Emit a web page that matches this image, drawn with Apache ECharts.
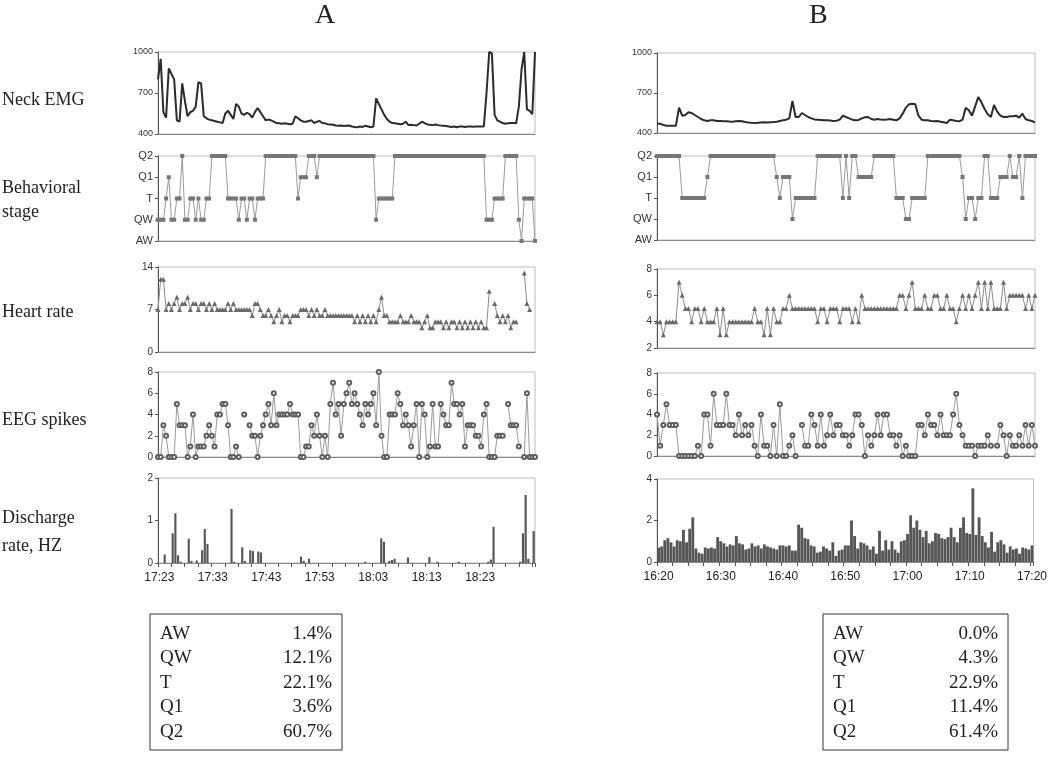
<!DOCTYPE html>
<html><head><meta charset="utf-8">
<script src="https://cdn.jsdelivr.net/npm/echarts@6/dist/echarts.min.js"></script>
<style>html,body{margin:0;padding:0;background:#fff}#c{width:1050px;height:758px}</style>
</head><body><div id="c"></div>
<script>
// ---------- DATA ----------
const stageNames = ['AW','QW','T','Q1','Q2'];
const rowLabels = [['Neck EMG'],['Behavioral','stage'],['Heart rate'],['EEG spikes'],['Discharge','rate, HZ']];
const ticksA = ['17:23','17:33','17:43','17:53','18:03','18:13','18:23'];
const ticksB = ['16:20','16:30','16:40','16:50','17:00','17:10','17:20'];
const startA = '17:23', startB = '16:20';   // 30-s bins
const binsA = 141, binsB = 121;

const emgA = [800,950,560,520,880,840,800,500,490,770,
640,530,560,570,600,780,770,530,515,505,
500,495,490,485,480,550,570,540,510,620,
600,550,540,555,545,520,560,590,560,530,
500,505,500,490,480,478,475,478,475,472,
475,530,515,500,490,490,495,500,480,490,
495,480,478,472,470,468,462,460,462,458,
460,462,455,452,450,455,452,460,455,450,
455,660,620,580,540,510,490,480,478,475,
472,475,490,465,468,465,462,475,490,480,
470,468,465,470,465,462,460,458,455,452,
455,450,455,455,452,455,455,453,455,455,
455,455,700,1000,990,540,500,490,480,475,
478,480,480,478,600,870,1000,580,570,545,
1000];
const stageA = [1,1,1,2,3,1,1,2,2,4,
1,1,2,2,1,2,1,1,2,2,
4,4,4,4,4,4,2,2,2,2,
1,2,2,1,2,2,1,2,2,2,
4,4,4,4,4,4,4,4,4,4,
4,4,2,3,3,3,4,4,4,3,
4,4,4,4,4,4,4,4,4,4,
4,4,4,4,4,4,4,4,4,4,
4,1,2,2,2,2,2,2,4,4,
4,4,4,4,4,4,4,4,4,4,
4,4,4,4,4,4,4,4,4,4,
4,4,4,4,4,4,4,4,4,4,
4,4,1,1,1,2,2,2,2,4,
4,4,4,4,1,0,2,2,2,2,
0];
const heartA = [7,12,12,7,8,7,8,9,7,8,
8,9,7,8,8,7,8,8,7,8,
7,8,7,7,7,7,8,7,8,7,
7,7,7,7,7,6,8,8,7,6,
6,7,6,5,6,7,5,6,6,5,
6,6,6,7,7,7,6,7,6,7,
6,6,7,6,6,6,6,6,6,6,
6,6,6,5,6,5,6,5,6,5,
6,5,7,9,6,6,5,5,5,5,
6,5,5,5,6,5,5,5,4,5,
6,4,4,5,5,5,4,5,4,5,
5,4,5,4,5,4,5,4,5,4,
5,4,4,10,null,8,6,5,6,5,
6,4,5,5,null,null,13,8,7,null,
null];
const eegA = [0,0,3,2,0,0,0,5,3,3,
3,0,1,4,0,1,1,1,2,3,
2,1,4,4,5,5,3,0,0,1,
0,null,4,null,3,2,2,0,2,3,
4,5,3,6,3,4,4,4,4,5,
4,4,4,0,0,1,1,3,2,4,
2,0,2,0,5,7,4,5,2,5,
6,7,5,6,5,4,3,5,4,5,
6,3,8,2,0,0,4,4,4,6,
5,3,4,3,1,3,5,0,5,4,
0,1,5,1,1,5,4,3,3,7,
5,5,4,5,1,3,3,3,2,2,
1,4,5,0,0,0,2,2,2,null,
5,3,3,3,1,null,0,6,0,0,
0];
const dischargeA = [0,0,0.2,0,0,0.7,1.17,0.18,0.03,0,
0,0.57,0.05,0,0.06,0,0.3,0.8,0.45,0,
0,0,0,0,0,0,0,1.27,0.03,0,
0,0.37,0.05,0,0.3,0.28,0,0.27,0.25,0,
0,0,0,0,0,0,0,0,0,0,
0,0,0,0.15,0.05,0,0.1,0,0,0,
0,0,0,0,0,0,0,0,0,0,
0,0,0,0,0,0,0,0.03,0,0,
0,0,0,0.58,0.5,0,0.05,0.07,0.1,0,
0,0,0,0.13,0,0,0,0,0,0,
0,0.14,0,0,0.03,0,0,0,0,0,
0,0,0.03,0,0,0,0,0,0,0,
0,0,0,0.03,0.08,0.85,0,0,0,0,
0,0,0,0,0,0.03,0.7,1.6,0.1,0,
0.75];

const emgB = [470,470,460,455,455,455,455,590,530,535,
555,550,535,520,505,495,490,495,495,490,
490,488,488,486,485,488,490,488,482,478,
476,475,476,478,480,478,480,482,485,490,
495,500,510,640,520,520,550,535,520,510,
502,500,498,496,495,493,490,492,500,530,
520,510,500,496,498,510,518,520,505,500,
505,502,500,502,505,500,495,510,545,590,
615,620,615,530,500,495,495,490,488,490,
485,480,475,500,495,490,488,500,590,570,
530,600,670,630,580,540,520,610,560,530,
520,520,525,525,530,515,545,505,495,490,
480];
const stageB = [4,4,4,4,4,4,4,4,2,2,
2,2,2,2,2,2,3,4,4,4,
4,4,4,4,4,4,4,4,4,4,
4,4,4,4,4,4,4,4,3,2,
3,3,3,1,2,2,2,2,2,2,
2,4,4,4,4,4,4,4,4,2,
4,2,4,4,3,3,3,3,3,4,
4,4,4,4,4,4,2,2,2,1,
1,2,2,2,2,2,4,4,4,4,
4,4,4,4,4,4,4,3,1,2,
2,1,2,2,4,4,2,2,2,3,
3,3,4,3,3,4,2,4,4,4,
4];
const heartB = [4,4,3,4,4,4,4,7,6,5,
5,4,5,5,4,5,4,4,4,5,
3,5,3,4,4,4,4,4,4,4,
4,5,4,4,3,5,3,5,4,4,
5,5,6,5,5,5,5,5,5,5,
5,4,5,5,4,5,5,5,4,5,
5,5,4,5,4,6,5,5,5,5,
5,5,5,5,5,5,5,6,6,5,
6,7,5,5,5,6,5,5,6,6,
5,5,6,5,5,4,5,6,5,6,
5,6,7,5,7,5,7,5,5,5,
7,5,6,6,6,6,6,5,6,5,
6];
const eegB = [4,1,3,5,3,3,3,0,0,0,
0,0,0,1,0,4,4,1,6,3,
3,3,6,3,3,2,4,2,3,2,
3,1,0,4,1,1,0,3,0,5,
0,0,1,2,0,null,3,1,1,4,
3,1,4,1,2,4,2,3,3,2,
2,1,2,4,4,3,0,2,1,2,
4,2,4,4,2,2,1,2,0,1,
0,0,0,3,3,2,4,3,3,2,
4,2,2,2,4,6,3,2,1,1,
1,0,1,1,1,2,1,null,1,3,
2,0,2,1,1,2,1,3,1,3,
1];
const dischargeB = [0.7,0.75,1.05,1.15,0.95,0.75,1.05,1.0,1.55,0.95,
1.6,2.15,0.65,0.45,0.4,0.7,0.65,0.7,0.65,1.2,
1.0,0.9,0.75,0.85,0.8,1.25,0.9,0.85,0.6,0.65,
0.9,0.75,0.8,0.65,0.85,0.75,0.7,0.65,0.6,0.8,
0.8,0.75,0.8,0.55,0.55,1.8,1.65,1.15,1.1,0.8,
0.75,0.45,0.5,0.75,0.65,0.55,0.95,0.3,0.55,0.6,
0.8,0.8,2.0,1.25,0.65,0.95,0.9,0.8,0.6,0.75,
0.4,1.5,0.55,1.05,0.6,1.0,0.6,0.45,1.0,1.05,
1.35,2.25,1.65,2.0,1.55,1.2,1.5,0.9,1.0,1.4,
1.35,1.15,1.1,1.2,1.65,1.2,0.95,1.65,2.15,1.4,
1.35,3.55,1.3,2.15,1.25,0.95,0.7,1.45,0.5,0.95,
1.05,0.85,0.45,0.75,0.6,0.65,0.4,0.7,0.65,0.6,
0.8];

const pctA = ['1.4%','12.1%','22.1%','3.6%','60.7%'];
const pctB = ['0.0%','4.3%','22.9%','11.4%','61.4%'];

// ---------- BUILD ----------
function binLabels(start, n){
  const p = start.split(':').map(Number); const out=[];
  for(let i=0;i<n;i++){
    const sec = p[0]*3600 + p[1]*60 + i*30;
    const h = Math.floor(sec/3600), m = Math.floor(sec%3600/60), s = sec%60;
    out.push(h+':'+String(m).padStart(2,'0')+(s?':30':''));
  }
  return out;
}
const catsA = binLabels(startA, binsA), catsB = binLabels(startB, binsB);

const SANS = 'Liberation Sans, Arial, sans-serif';
const SERIF = 'Liberation Serif, Times New Roman, serif';
const grids=[], xAxes=[], yAxes=[], series=[];

function addPanel(box, cats, yCfg, ser, isBar, ticks, labelSize){
  const gi = grids.length;
  grids.push({left:box[0], top:box[1], width:box[2], height:box[3], show:true,
    borderColor:'#bdbdbd', borderWidth:1, backgroundColor:'rgba(0,0,0,0)'});
  xAxes.push({gridIndex:gi, type:'category', data:cats, boundaryGap:!!isBar,
    axisLine:{show:true, onZero:false, lineStyle:{color:'#8a8a8a', width:1}},
    axisTick: isBar ? {show:true, interval:(i)=>i%5===0, length:4, lineStyle:{color:'#555'}} : {show:false},
    axisLabel: isBar ? {show:true, interval:(i,v)=>ticks.includes(v), fontFamily:SANS, fontSize:12, color:'#222', margin:9} : {show:false},
    splitLine:{show:false}});
  yAxes.push(Object.assign({gridIndex:gi,
    axisLine:{show:true, onZero:false, lineStyle:{color:'#555', width:1}},
    axisTick:{show:true, length:3, lineStyle:{color:'#555'}},
    axisLabel:{fontFamily:SANS, fontSize:labelSize||10, color:'#333', margin:5, formatter:(v)=>String(v)},
    splitLine:{show:false}}, yCfg));
  ser.xAxisIndex = gi; ser.yAxisIndex = gi; ser.animation = false;
  series.push(ser);
}

function column(left, width, tops, cats, d, ticks, heartCfg, disCfg, barGap){
  addPanel([left,tops[0][0],width,tops[0][1]], cats, {type:'value', min:400, max:1000, interval:300},
    {type:'line', data:d.emg, symbol:'none', lineStyle:{color:'#2b2b2b', width:2}}, false, null, 9);
  addPanel([left,tops[1][0],width,tops[1][1]], cats, {type:'category', data:stageNames, boundaryGap:false},
    {type:'line', data:d.stage, symbol:'rect', symbolSize:4, showAllSymbol:true,
     itemStyle:{color:'#767676'}, lineStyle:{color:'#9a9a9a', width:1}}, false, null, 11);
  addPanel([left,tops[2][0],width,tops[2][1]], cats, heartCfg,
    {type:'line', data:d.heart, symbol:'triangle', symbolSize:5, showAllSymbol:true,
     itemStyle:{color:'#6a6a6a'}, lineStyle:{color:'#8c8c8c', width:1}}, false, null, 10);
  addPanel([left,tops[3][0],width,tops[3][1]], cats, {type:'value', min:0, max:8, interval:2},
    {type:'line', data:d.eeg, symbol:'emptyCircle', symbolSize:4, showAllSymbol:true,
     itemStyle:{color:'#5e5e5e', borderColor:'#5e5e5e', borderWidth:1}, lineStyle:{color:'#9a9a9a', width:1}}, false, null, 10);
  addPanel([left,tops[4][0],width,tops[4][1]], cats, disCfg,
    {type:'bar', data:d.dis, barCategoryGap:barGap, itemStyle:{color:'#565656'}}, true, ticks, 10);
}

column(158, 377, [[52,82],[156,85],[267,85],[372,85],[478,85]], catsA,
  {emg:emgA, stage:stageA, heart:heartA, eeg:eegA, dis:dischargeA}, ticksA,
  {type:'value', min:0, max:14, interval:7}, {type:'value', min:0, max:2, interval:1}, '20%');
column(657, 378, [[53,80],[156,84],[269,79],[373,83],[479,83]], catsB,
  {emg:emgB, stage:stageB, heart:heartB, eeg:eegB, dis:dischargeB}, ticksB,
  {type:'value', min:2, max:8, interval:2}, {type:'value', min:0, max:4, interval:2}, '8%');

// text graphics
const graphic = [];
graphic.push({type:'text', left:315, top:2, style:{text:'A', font:'28px '+SERIF, fill:'#222'}});
graphic.push({type:'text', left:809, top:2, style:{text:'B', font:'28px '+SERIF, fill:'#222'}});
const labelY = [[100],[188,212],[312],[420],[518,546]];
rowLabels.forEach((lines,k)=>{
  lines.forEach((t,j)=>{
    graphic.push({type:'text', x:2, y:labelY[k][j], style:{text:t, font:'18px '+SERIF, fill:'#222', verticalAlign:'middle', align:'left'}});
  });
});
function table(x, w, vals){
  graphic.push({type:'rect', shape:{x:x, y:614, width:w, height:136}, style:{fill:'none', stroke:'#333', lineWidth:1}});
  stageNames.forEach((n,k)=>{
    const y = 634 + k*24.5;
    graphic.push({type:'text', x:x+10, y:y, style:{text:n, font:'19px '+SERIF, fill:'#222', verticalAlign:'middle', align:'left'}});
    graphic.push({type:'text', x:x+w-10, y:y, style:{text:vals[k], font:'19px '+SERIF, fill:'#222', verticalAlign:'middle', align:'right'}});
  });
}
table(150, 192, pctA);
table(823, 185, pctB);

const chart = echarts.init(document.getElementById('c'));
chart.setOption({animation:false, backgroundColor:'#fff', grid:grids, xAxis:xAxes, yAxis:yAxes, series:series, graphic:graphic});
</script></body></html>
